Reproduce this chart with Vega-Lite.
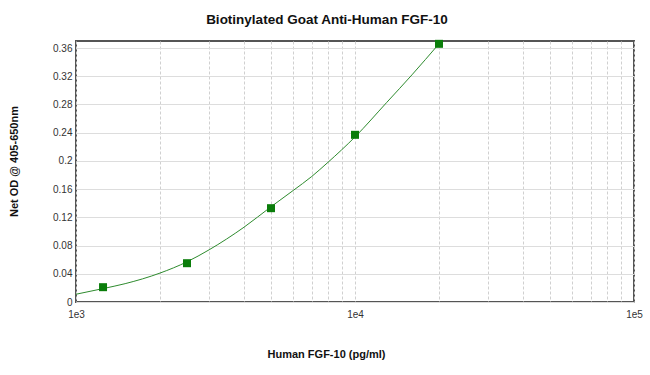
{
  "$schema": "https://vega.github.io/schema/vega-lite/v6.json",
  "width": 558,
  "height": 261,
  "autosize": "none",
  "padding": {"left": 76, "top": 41, "right": 16, "bottom": 73},
  "background": "white",
  "config": {
    "font": "Liberation Sans",
    "view": {"stroke": "#555555", "strokeWidth": 2},
    "axis": {"labelFont": "Liberation Sans", "titleFont": "Liberation Sans", "labelColor": "#333", "titleColor": "#111"}
  },
  "title": {"text": "Biotinylated Goat Anti-Human FGF-10", "fontSize": 13.5, "fontWeight": "bold", "font": "Liberation Sans", "color": "#111", "anchor": "middle", "dx": -28, "offset": 13},
  "datasets": {
    "curve": [
      {"conc": 1000, "od": 0.011},
      {"conc": 1250, "od": 0.019},
      {"conc": 1500, "od": 0.026},
      {"conc": 2000, "od": 0.041},
      {"conc": 2500, "od": 0.057},
      {"conc": 3000, "od": 0.074},
      {"conc": 4000, "od": 0.106},
      {"conc": 5000, "od": 0.135},
      {"conc": 6000, "od": 0.158},
      {"conc": 7000, "od": 0.178},
      {"conc": 8000, "od": 0.198},
      {"conc": 10000, "od": 0.234},
      {"conc": 13000, "od": 0.283},
      {"conc": 16000, "od": 0.322},
      {"conc": 20000, "od": 0.366}
    ],
    "points": [
      {"conc": 1250, "od": 0.021},
      {"conc": 2500, "od": 0.055},
      {"conc": 5000, "od": 0.133},
      {"conc": 10000, "od": 0.237},
      {"conc": 20000, "od": 0.366}
    ]
  },
  "layer": [
    {
      "data": {"name": "curve"},
      "mark": {"type": "line", "color": "#2e8b2e", "strokeWidth": 1, "interpolate": "monotone", "clip": true},
      "encoding": {
        "x": {
          "field": "conc", "type": "quantitative",
          "scale": {"type": "log", "domain": [1000, 100000], "nice": false},
          "axis": {
            "title": "Human FGF-10 (pg/ml)", "titleFontSize": 11, "titleFontWeight": "bold",
            "titleX": 250, "titleY": 46, "titleAnchor": "middle",
            "values": [1000, 2000, 3000, 4000, 5000, 6000, 7000, 8000, 9000, 10000, 20000, 30000, 40000, 50000, 60000, 70000, 80000, 90000, 100000],
            "tickCount": 30,
            "labelExpr": "datum.value == 1000 ? '1e3' : datum.value == 10000 ? '1e4' : datum.value == 100000 ? '1e5' : ''",
            "labelFontSize": 10, "labelPadding": 7, "labelFlush": false, "labelOverlap": false,
            "grid": true, "gridColor": "#d0d0d0", "gridDash": [3, 2], "gridWidth": 1,
            "ticks": false, "domain": false
          }
        },
        "y": {
          "field": "od", "type": "quantitative",
          "scale": {"domain": [0, 0.37], "nice": false, "zero": true},
          "axis": {
            "title": "Net OD @ 405-650nm", "titleFontSize": 11, "titleFontWeight": "bold",
            "titleX": -57, "titleY": 120, "titleAnchor": "middle",
            "values": [0, 0.04, 0.08, 0.12, 0.16, 0.2, 0.24, 0.28, 0.32, 0.36],
            "tickCount": 20,
            "format": "~g", "labelFontSize": 10, "labelPadding": 4, "labelOverlap": false, "labelFlush": false,
            "grid": true, "gridColor": "#dddddd", "gridWidth": 1,
            "ticks": false, "domain": false
          }
        }
      }
    },
    {
      "data": {"name": "points"},
      "mark": {"type": "point", "shape": "square", "filled": true, "color": "#0a7d0a", "size": 64, "opacity": 1},
      "encoding": {
        "x": {"field": "conc", "type": "quantitative"},
        "y": {"field": "od", "type": "quantitative"}
      }
    }
  ]
}
